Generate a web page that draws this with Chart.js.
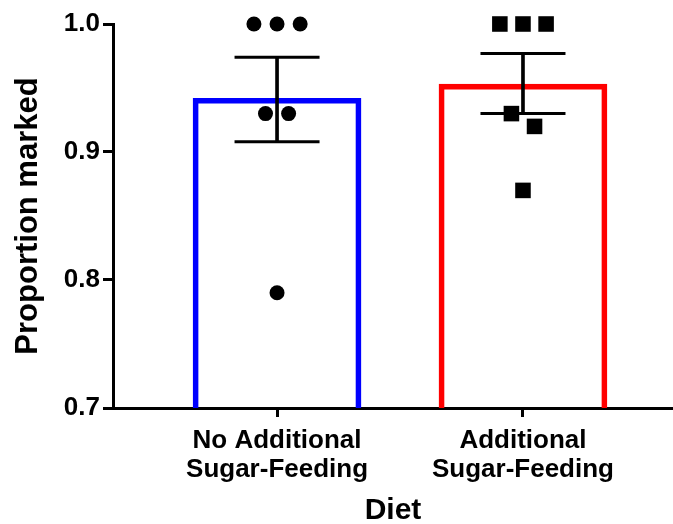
<!DOCTYPE html>
<html>
<head>
<meta charset="utf-8">
<script src="https://cdn.jsdelivr.net/npm/chart.js@4/dist/chart.umd.min.js"></script>
<style>
  html, body { margin: 0; padding: 0; background: #ffffff; }
  #wrap { width: 673px; height: 524px; position: relative; }
</style>
</head>
<body>
<div id="wrap"><canvas id="c" width="673" height="524"></canvas></div>
<script>
// ---- Data ----
const categories = [['No Additional', 'Sugar-Feeding'], ['Additional', 'Sugar-Feeding']];
const xAxisTitle = 'Diet';
const yAxisTitle = 'Proportion marked';
const yTicks = [0.7, 0.8, 0.9, 1.0];

const means = [0.942, 0.953];
const errLow = [0.908, 0.930];
const errHigh = [0.974, 0.977];

const noSugarPoints = [1.0, 1.0, 1.0, 0.93, 0.93, 0.79];
const sugarPoints = [1.0, 1.0, 1.0, 0.93, 0.92, 0.87];

// ---- Build datasets ----
// Spread near-equal values side by side (scatter-plot style jitter)
function spread(values, catIndex) {
  const step = 0.094;
  const tol = 0.015;
  const used = new Array(values.length).fill(false);
  const out = [];
  for (let i = 0; i < values.length; i++) {
    if (used[i]) continue;
    const group = [];
    for (let j = i; j < values.length; j++) {
      if (!used[j] && Math.abs(values[j] - values[i]) <= tol) { group.push(j); used[j] = true; }
    }
    const n = group.length;
    group.forEach((idx, k) => {
      const off = n === 1 ? 0 : (n === 2 ? (k - 0.5) * step : (k - (n - 1) / 2) * step);
      out.push({ x: catIndex + off, y: values[idx] });
    });
  }
  return out;
}

const barData = means.map((m, i) => ({ x: i, y: m }));
const stemData = means.map((m, i) => ({ x: i, y: [errLow[i], errHigh[i]] }));
const capData = [];
means.forEach((m, i) => { capData.push({ x: i, y: errLow[i] }); capData.push({ x: i, y: errHigh[i] }); });

const FONT = '"Liberation Sans", Arial, sans-serif';

new Chart(document.getElementById('c'), {
  type: 'bar',
  data: {
    datasets: [
      {
        type: 'bar',
        data: barData,
        backgroundColor: 'rgba(255,255,255,0)',
        borderColor: ['#0000ff', '#ff0000'],
        borderWidth: 5,
        borderSkipped: 'start',
        barThickness: 168,
        grouped: false,
        order: 4
      },
      {
        type: 'bar',
        data: stemData,
        backgroundColor: '#000000',
        borderWidth: 0,
        barThickness: 3,
        grouped: false,
        order: 3
      },
      {
        type: 'scatter',
        data: capData,
        pointStyle: 'line',
        pointRadius: 42.5,
        borderColor: '#000000',
        borderWidth: 3,
        clip: false,
        order: 2
      },
      {
        type: 'scatter',
        data: spread(noSugarPoints, 0),
        pointStyle: 'circle',
        pointRadius: 7.5,
        backgroundColor: '#000000',
        borderWidth: 0,
        clip: false,
        order: 1
      },
      {
        type: 'scatter',
        data: spread(sugarPoints, 1),
        pointStyle: 'rect',
        pointRadius: 11,
        backgroundColor: '#000000',
        borderWidth: 0,
        clip: false,
        order: 0
      }
    ]
  },
  options: {
    responsive: false,
    animation: false,
    events: [],
    layout: { autoPadding: false, padding: { top: 24, right: 0, bottom: 0, left: 0 } },
    plugins: { legend: { display: false }, tooltip: { enabled: false } },
    scales: {
      x: {
        type: 'linear',
        offset: false,
        min: -0.667,
        max: 1.61,
        afterBuildTicks: (scale) => { scale.ticks = categories.map((c, i) => ({ value: i })); },
        afterFit: (scale) => { scale.height = 116; scale.paddingLeft = 0; scale.paddingRight = 0; },
        ticks: {
          autoSkip: false,
          maxRotation: 0,
          padding: 10,
          color: '#000000',
          font: { family: FONT, size: 26, weight: 'bold', lineHeight: 1.1 },
          callback: (v) => categories[Math.round(v)] || ''
        },
        grid: { display: true, offset: false, drawOnChartArea: false, drawTicks: true, tickLength: 9, lineWidth: 3, color: '#000000' },
        border: { display: true, width: 3, color: '#000000' },
        title: {
          display: true,
          text: xAxisTitle,
          color: '#000000',
          font: { family: FONT, size: 30, weight: 'bold', lineHeight: 1.0 },
          padding: { top: 0, bottom: -2 }
        }
      },
      y: {
        type: 'linear',
        min: 0.7,
        max: 1.0,
        afterBuildTicks: (scale) => { scale.ticks = yTicks.map(v => ({ value: v })); },
        afterFit: (scale) => { scale.width = 113; scale.paddingTop = 0; scale.paddingBottom = 0; },
        ticks: {
          padding: 3,
          color: '#000000',
          font: { family: FONT, size: 26, weight: 'bold' },
          callback: (v) => Number(v).toFixed(1)
        },
        grid: { display: true, drawOnChartArea: false, drawTicks: true, tickLength: 10, lineWidth: 3, color: '#000000' },
        border: { display: true, width: 3, color: '#000000' },
        title: {
          display: true,
          text: yAxisTitle,
          color: '#000000',
          font: { family: FONT, size: 31, weight: 'bold', lineHeight: 1.2 },
          padding: { top: 10, bottom: 0 }
        }
      }
    }
  }
});
</script>
</body>
</html>
